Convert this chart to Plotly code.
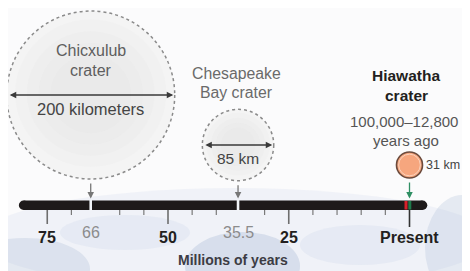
import plotly.graph_objects as go

# ---- data ----
crater_names = ["Chicxulub", "Chesapeake", "Hiawatha"]
crater_ages_myr = [66, 35.5, 0]          # millions of years ago
crater_diam_km = [200, 85, 31]
diam_labels = ["200 kilometers", "85 km", "31 km"]
major_ticks = [75, 50, 25, 0]
major_labels = ["75", "50", "25", "Present"]
event_ticks = [66, 35.5]
event_labels = ["66", "35.5"]
minor_ticks = list(range(75, -1, -5))
timeline_span = [79.9, -2.7]

# ---- layout scale (window pixels; page body has an 8px margin) ----
W, H = 470, 271
OFF = 8
PX0 = 409.5          # window pixel of age 0
PPM = 4.83           # pixels per Myr
KMPX = 0.84          # pixels per km of crater diameter
xr = [(PX0 - OFF) / PPM, (PX0 - W) / PPM]


def dx(px):
    return px / PPM


def age_at(px):
    return (PX0 - px) / PPM


FONT = "Liberation Sans, Arial, sans-serif"
circle_cy = [95, 145, 165]
BAR_Y0, BAR_Y1 = 200.5, 210

fig = go.Figure()
fig.add_trace(go.Scatter(x=[None], y=[None], showlegend=False))

shapes = []
annos = []

# background ice-like streaks (decorative)
bg = [
    (-20, 188, 490, 290, "rgba(214,223,237,0.30)"),
    (-40, 238, 90, 300, "rgba(160,178,206,0.25)"),
    (185, 232, 300, 300, "rgba(140,162,198,0.25)"),
    (60, 215, 190, 250, "rgba(205,215,232,0.28)"),
    (300, 225, 420, 265, "rgba(200,212,230,0.25)"),
    (425, 195, 500, 300, "rgba(165,183,210,0.25)"),
]
for x0, y0, x1, y1, c in bg:
    shapes.append(dict(type="circle", x0=age_at(x0), x1=age_at(x1), y0=y0, y1=y1,
                       fillcolor=c, line=dict(width=0), layer="below"))

# crater circles
for i, (age, d, cy) in enumerate(zip(crater_ages_myr, crater_diam_km, circle_cy)):
    r = d * KMPX / 2
    if i < 2:
        shapes.append(dict(type="circle", x0=age + dx(r), x1=age - dx(r), y0=cy - r, y1=cy + r,
                           fillcolor="#f4f4f4", line=dict(width=0), layer="above"))
        for k in [0.9, 0.76, 0.62, 0.48]:
            rk = r * k
            shapes.append(dict(type="circle", x0=age + dx(rk), x1=age - dx(rk),
                               y0=cy - rk, y1=cy + rk * 0.95,
                               fillcolor="rgba(200,200,202,0.06)", line=dict(width=0), layer="above"))
        shapes.append(dict(type="circle", x0=age + dx(r), x1=age - dx(r), y0=cy - r, y1=cy + r,
                           fillcolor="rgba(0,0,0,0)",
                           line=dict(color="#8a8a8a", width=1.5, dash="dot"), layer="above"))
    else:
        shapes.append(dict(type="circle", x0=age + dx(r), x1=age - dx(r), y0=cy - r, y1=cy + r,
                           fillcolor="#f6a67e", line=dict(color="#6b4a3c", width=1.6), layer="above"))
        rk = r - 2.2
        shapes.append(dict(type="circle", x0=age + dx(rk), x1=age - dx(rk), y0=cy - rk, y1=cy + rk,
                           fillcolor="rgba(0,0,0,0)", line=dict(color="#fbd3bd", width=1), layer="above"))

# timeline bar
BR = (BAR_Y1 - BAR_Y0) / 2
shapes.append(dict(type="rect", x0=timeline_span[0], x1=timeline_span[1], y0=BAR_Y0, y1=BAR_Y1,
                   fillcolor="#1e1a1a", line=dict(width=0), layer="above"))
for e in timeline_span:
    shapes.append(dict(type="circle", x0=e - dx(BR), x1=e + dx(BR), y0=BAR_Y0, y1=BAR_Y1,
                       fillcolor="#1e1a1a", line=dict(width=0), layer="above"))
# gaps at events
for a in event_ticks:
    shapes.append(dict(type="rect", x0=a + dx(1.3), x1=a - dx(1.3), y0=BAR_Y0 - 1, y1=BAR_Y1 + 1,
                       fillcolor="#f2f4f8", line=dict(width=0), layer="above"))
# Hiawatha marker on the bar
shapes.append(dict(type="rect", x0=dx(5), x1=dx(2), y0=BAR_Y0 + 0.5, y1=BAR_Y1 - 0.5,
                   fillcolor="#d8202a", line=dict(width=0), layer="above"))
shapes.append(dict(type="rect", x0=dx(1.2), x1=dx(-1.8), y0=BAR_Y0 + 0.5, y1=BAR_Y1 - 0.5,
                   fillcolor="#1f7a4a", line=dict(width=0), layer="above"))

# ticks
for t in minor_ticks:
    if t in major_ticks or any(abs(t - e) < 1.5 for e in event_ticks):
        continue
    shapes.append(dict(type="line", x0=t, x1=t, y0=BAR_Y1, y1=BAR_Y1 + 5,
                       line=dict(color="#7a7a7a", width=1.2), layer="above"))
for t in major_ticks:
    y1 = BAR_Y1 + (17 if t == 0 else 14)
    shapes.append(dict(type="line", x0=t, x1=t, y0=BAR_Y1, y1=y1,
                       line=dict(color="#333" if t == 0 else "#6e6e6e", width=1.6), layer="above"))

# tick labels
for t, lab in zip(major_ticks, major_labels):
    annos.append(dict(x=t, y=237.5, text=f"<b>{lab}</b>",
                      font=dict(family=FONT, size=16, color="#231f20")))
for t, lab in zip(event_ticks, event_labels):
    annos.append(dict(x=t, y=232.5, text=lab,
                      font=dict(family=FONT, size=16, color="#8c8c8c")))
annos.append(dict(x=age_at(233), y=260, text="<b>Millions of years</b>",
                  font=dict(family=FONT, size=14, color="#3c3c44")))

# down arrows from craters to timeline
for i, (age, d, cy) in enumerate(zip(crater_ages_myr, crater_diam_km, circle_cy)):
    r = d * KMPX / 2
    col = "#2f8f63" if i == 2 else "#777777"
    annos.append(dict(x=age, y=BAR_Y0 - 2, ax=age, ay=cy + r + 3, axref="x", ayref="y",
                      showarrow=True, arrowhead=2, arrowsize=1,
                      arrowwidth=1.3, arrowcolor=col, text=""))

# diameter arrows for the two big craters
for i in range(2):
    age, d, cy = crater_ages_myr[i], crater_diam_km[i], circle_cy[i]
    r = d * KMPX / 2 - 1.5
    annos.append(dict(x=age - dx(r), y=cy, ax=age + dx(r), ay=cy, axref="x", ayref="y",
                      showarrow=True, arrowhead=2, startarrowhead=2, arrowside="end+start",
                      arrowsize=1, startarrowsize=1, arrowwidth=1.3, arrowcolor="#3a3a3a", text=""))

# crater labels
grey = "#5e5e5e"
annos += [
    dict(x=66, y=50, text="Chicxulub", font=dict(family=FONT, size=16, color=grey)),
    dict(x=66, y=70, text="crater", font=dict(family=FONT, size=16, color=grey)),
    dict(x=66, y=109, text=diam_labels[0], font=dict(family=FONT, size=16.5, color="#444")),
    dict(x=age_at(236), y=73, text="Chesapeake", font=dict(family=FONT, size=15.8, color="#6a6a6a")),
    dict(x=age_at(236), y=92, text="Bay crater", font=dict(family=FONT, size=15.8, color="#6a6a6a")),
    dict(x=35.5, y=158, text=diam_labels[1], font=dict(family=FONT, size=15.5, color="#444")),
    dict(x=age_at(406), y=75, text="<b>Hiawatha</b>", font=dict(family=FONT, size=15.5, color="#231f20")),
    dict(x=age_at(406), y=95, text="<b>crater</b>", font=dict(family=FONT, size=15.5, color="#231f20")),
    dict(x=age_at(404), y=121, text="100,000–12,800", font=dict(family=FONT, size=15, color="#555")),
    dict(x=age_at(406), y=140, text="years ago", font=dict(family=FONT, size=15, color="#555")),
    dict(x=age_at(424), y=165, xanchor="left", text=diam_labels[2],
         font=dict(family=FONT, size=12.5, color="#444")),
]
for a in annos:
    a.setdefault("showarrow", False)
    a.setdefault("xanchor", "center")
    a.setdefault("yanchor", "middle")
    a.setdefault("xref", "x")
    a.setdefault("yref", "y")

fig.update_layout(
    width=W - OFF, height=H - OFF, margin=dict(l=0, r=0, t=0, b=0),
    paper_bgcolor="#fbfbfc", plot_bgcolor="rgba(0,0,0,0)",
    xaxis=dict(range=xr, visible=False, fixedrange=True),
    yaxis=dict(range=[H, OFF], visible=False, fixedrange=True),
    shapes=shapes, annotations=annos, showlegend=False,
)
fig.write_html("out.html")
